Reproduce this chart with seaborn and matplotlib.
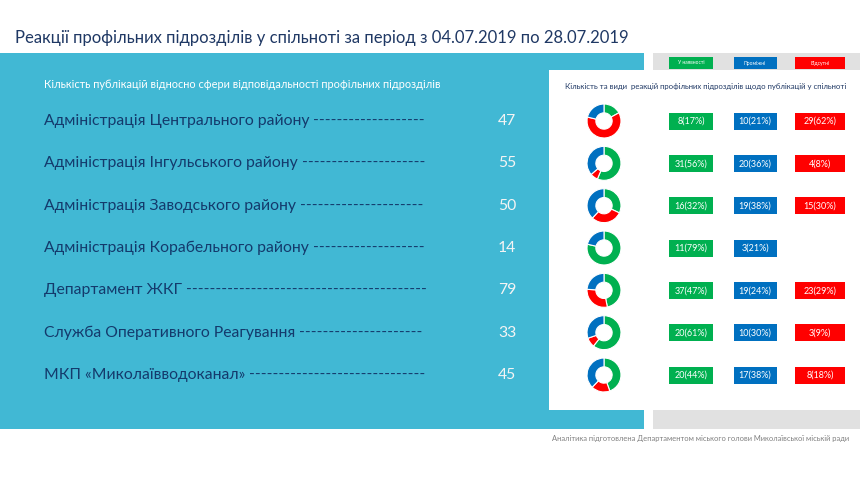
import numpy as np
import matplotlib
matplotlib.use("Agg")
import matplotlib.pyplot as plt
from matplotlib.patches import Rectangle
import seaborn as sns

# data
units = ["Адміністрація Центрального району", "Адміністрація Інгульського району",
         "Адміністрація Заводського району", "Адміністрація Корабельного району",
         "Департамент ЖКГ", "Служба Оперативного Реагування", "МКП «Миколаївводоканал»"]
totals = [47, 55, 50, 14, 79, 33, 45]
present = [8, 31, 16, 11, 37, 20, 20]
interim = [10, 20, 19, 3, 19, 10, 17]
absent = [29, 4, 15, 0, 23, 3, 8]
present_pct = [17, 56, 32, 79, 47, 61, 44]
interim_pct = [21, 36, 38, 21, 24, 30, 38]
absent_pct = [62, 8, 30, 0, 29, 9, 18]
legend_labels = ["У наявності", "Проміжні", "Відсутні"]

title = "Реакції профільних підрозділів у спільноті за період з 04.07.2019 по 28.07.2019"
left_sub = "Кількість публікацій відносно сфери відповідальності профільних підрозділів"
right_sub = "Кількість та види  реакцій профільних підрозділів щодо публікацій у спільноті"
footer = "Аналітика підготовлена Департаментом міського голови Миколаївської міській ради"

sns.set_theme(style="white")
plt.rcParams['font.family'] = ['Lato', 'DejaVu Sans']
green, blue, red = sns.color_palette(["#00b050", "#0070c0", "#ff0000"])
navy = "#1f3864"
label_col = "#143a6c"

W, H = 860, 483
fig = plt.figure(figsize=(W / 100, H / 100), dpi=100)
fig.patch.set_facecolor("white")
bg = fig.add_axes([0, 0, 1, 1])
bg.set_xlim(0, W)
bg.set_ylim(H, 0)
bg.axis("off")
renderer = fig.canvas.get_renderer()


def fit_width(txt, width_px):
    w = txt.get_window_extent(renderer=renderer).width
    txt.set_fontsize(txt.get_fontsize() * width_px / w)
    return txt.get_fontsize()


# panels
bg.add_patch(Rectangle((653, 53), 207, 376, color="#e1e1e1", lw=0))
bg.add_patch(Rectangle((0, 53), 644, 376, color="#41b8d4", lw=0))
bg.add_patch(Rectangle((549, 70), 311, 340, color="white", lw=0))

t = bg.text(15, 43, title, color=navy, fontsize=12, va="baseline")
fit_width(t, 613)
t = bg.text(44, 85, left_sub, color="white", fontsize=7, va="center")
fit_width(t, 396)
t = bg.text(565, 87, right_sub, color=navy, fontsize=7, va="center")
fit_width(t, 281)
t = bg.text(849, 439, footer, color="#808080", fontsize=6, va="center", ha="right")
fit_width(t, 297)

# column boxes: centres and widths
box_x = [691, 755, 820]
box_w = [44, 43, 50]
colors = [green, blue, red]

for x, w, c, lab in zip(box_x, box_w, colors, legend_labels):
    bg.add_patch(Rectangle((x - w / 2, 57), w, 12, color=c, lw=0))
    bg.text(x, 63, lab, color="white", fontsize=3.6, ha="center", va="center")

rows_y = np.linspace(121, 375, len(units))

# label font fitted on the first row name
probe = bg.text(44, rows_y[0], units[0], fontsize=11, color=label_col, va="center")
label_fs = fit_width(probe, 266)
probe.remove()
dash_probe = bg.text(0, 0, "-" * 40, fontsize=label_fs)
dash_w = dash_probe.get_window_extent(renderer=renderer).width / 40
dash_probe.remove()

for i, y in enumerate(rows_y):
    name = bg.text(44, y, units[i] + " ", fontsize=label_fs, color=label_col, va="center")
    end = name.get_window_extent(renderer=renderer).x1
    n = int(round((425 - end) / dash_w))
    bg.text(end, y, "-" * max(n, 0), fontsize=label_fs, color=label_col, va="center")
    bg.text(507, y, str(totals[i]), fontsize=label_fs, color="#f4f4f4", va="center", ha="center")

    # donut
    vals = [present[i], absent[i], interim[i]]
    cols = [green, red, blue]
    vals, cols = zip(*[(v, c) for v, c in zip(vals, cols) if v > 0])
    ax = fig.add_axes([(604 - 18) / W, 1 - (y + 18) / H, 36 / W, 36 / H])
    ax.pie(vals, colors=cols, startangle=90, counterclock=False,
           wedgeprops=dict(width=0.52, edgecolor="white", linewidth=0.8))
    ax.set_xlim(-1.06, 1.06)
    ax.set_ylim(-1.06, 1.06)

    # value boxes
    counts = [present[i], interim[i], absent[i]]
    pcts = [present_pct[i], interim_pct[i], absent_pct[i]]
    for x, w, c, v, p in zip(box_x, box_w, colors, counts, pcts):
        if v == 0:
            continue
        bg.add_patch(Rectangle((x - w / 2, y - 8.5), w, 17, color=c, lw=0))
        bg.text(x, y + 0.5, f"{v}({p}%)", color="white", fontsize=6.5,
                ha="center", va="center")

fig.savefig("out.png", dpi=100, facecolor="white")
